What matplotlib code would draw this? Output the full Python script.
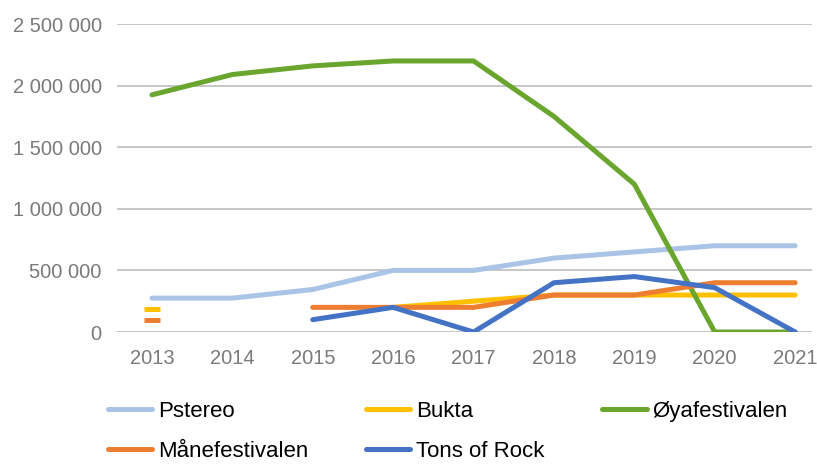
import numpy as np
import matplotlib.pyplot as plt
from matplotlib.ticker import FuncFormatter

nan = np.nan

# Festival data
years = [2013, 2014, 2015, 2016, 2017, 2018, 2019, 2020, 2021]
pstereo = [275000, 275000, 345000, 500000, 500000, 600000, 650000, 700000, 700000]
bukta = [190000, nan, nan, 200000, 250000, 300000, 300000, 300000, 300000]
oya = [1925000, 2090000, 2160000, 2200000, 2200000, 1750000, 1200000, 0, 0]
mane = [100000, nan, 200000, 200000, 200000, 300000, 300000, 400000, 400000]
tons = [nan, nan, 100000, 200000, 0, 400000, 450000, 360000, 0]

series = [
    ('Pstereo', pstereo, '#a9c4e6'),
    ('Bukta', bukta, '#ffc000'),
    ('Øyafestivalen', oya, '#6aa52e'),
    ('Månefestivalen', mane, '#ed7d31'),
    ('Tons of Rock', tons, '#4472c4'),
]

plt.rcParams['font.family'] = ['Liberation Sans', 'DejaVu Sans']

fig = plt.figure(figsize=(8.17, 4.66), dpi=100)
ax = fig.add_axes([117 / 817, 1 - 332 / 466, (812 - 117) / 817, (332 - 24) / 466])

lines = {}
for name, vals, color in series:
    vals = np.array(vals, dtype=float)
    # isolated points (no neighbours) get a short dash, like the reference
    iso = [i for i in range(len(vals)) if not np.isnan(vals[i])
           and (i == 0 or np.isnan(vals[i - 1]))
           and (i == len(vals) - 1 or np.isnan(vals[i + 1]))]
    kw = dict(color=color, lw=3.6, label=name,
              solid_capstyle='round', solid_joinstyle='round')
    if iso:
        kw.update(marker='_', markevery=iso, markersize=11, markeredgewidth=3.6)
    lines[name], = ax.plot(years, vals, **kw)

ax.set_xlim(2012.565, 2021.21)
ax.set_ylim(0, 2500000)
ax.set_xticks(years)
ax.set_yticks(np.arange(0, 2500001, 500000))
ax.yaxis.set_major_formatter(FuncFormatter(lambda v, p: f'{int(v):,}'.replace(',', ' ')))
ax.grid(axis='y', color='#bdbdbd', lw=1.2)
ax.set_axisbelow(True)
for s in ax.spines.values():
    s.set_visible(False)
ax.tick_params(length=0, labelsize=14.5, labelcolor='#7a7a7a')
ax.tick_params(axis='y', pad=11)
ax.tick_params(axis='x', pad=12)

# legend is filled column-wise, so order to read row-wise
order = ['Pstereo', 'Månefestivalen', 'Bukta', 'Tons of Rock', 'Øyafestivalen']
fig.legend([lines[n] for n in order], order, loc='upper left',
           bbox_to_anchor=(88 / 817, 1 - 381 / 466), ncol=3,
           frameon=False, fontsize=16, handlelength=2.0, handletextpad=0.25,
           columnspacing=2.6, labelspacing=0.85)

fig.savefig('out.png', dpi=100)
